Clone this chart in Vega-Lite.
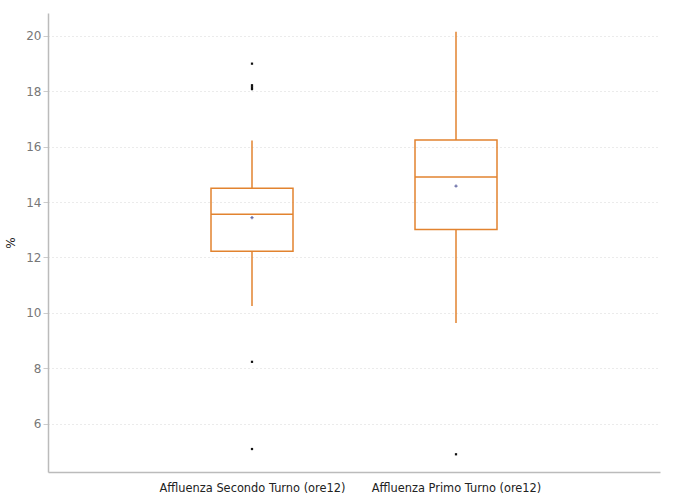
{
  "$schema": "https://vega.github.io/schema/vega-lite/v6.json",
  "width": 612,
  "height": 459,
  "autosize": "none",
  "padding": {"left": 48, "top": 13, "right": 20, "bottom": 32},
  "background": "white",
  "config": {
    "view": {"stroke": null},
    "font": "DejaVu Sans",
    "axis": {"labelFont": "DejaVu Sans", "titleFont": "DejaVu Sans"}
  },
  "datasets": {
    "stats": [
      {"serie": "Affluenza Secondo Turno (ore12)", "lower": 10.25, "q1": 12.22, "median": 13.56, "q3": 14.5, "upper": 16.22, "mean": 13.44},
      {"serie": "Affluenza Primo Turno (ore12)", "lower": 9.63, "q1": 13.01, "median": 14.91, "q3": 16.24, "upper": 20.15, "mean": 14.58}
    ],
    "outliers": [
      {"serie": "Affluenza Secondo Turno (ore12)", "value": 19.0},
      {"serie": "Affluenza Secondo Turno (ore12)", "value": 18.22},
      {"serie": "Affluenza Secondo Turno (ore12)", "value": 18.15},
      {"serie": "Affluenza Secondo Turno (ore12)", "value": 18.08},
      {"serie": "Affluenza Secondo Turno (ore12)", "value": 8.23},
      {"serie": "Affluenza Secondo Turno (ore12)", "value": 5.08},
      {"serie": "Affluenza Primo Turno (ore12)", "value": 4.89}
    ]
  },
  "encoding": {
    "x": {
      "field": "serie",
      "type": "nominal",
      "sort": ["Affluenza Secondo Turno (ore12)", "Affluenza Primo Turno (ore12)"],
      "scale": {"type": "point", "padding": 1},
      "axis": {
        "title": null,
        "labelAngle": 0,
        "labelFontSize": 11.4,
        "labelColor": "#222",
        "labelPadding": 10,
        "labelLimit": 300,
        "labelOverlap": false,
        "ticks": false,
        "domainColor": "#bbb",
        "domainWidth": 1.5,
        "grid": false
      }
    }
  },
  "layer": [
    {
      "data": {"name": "stats"},
      "mark": {"type": "rule", "color": "#e2832f", "strokeWidth": 1.5},
      "encoding": {
        "y": {
          "field": "lower",
          "type": "quantitative",
          "scale": {"domain": [4.25, 20.83], "nice": false, "zero": false},
          "axis": {
            "title": "%",
            "titleColor": "#222",
            "titleFontSize": 12,
            "titleFontWeight": "normal",
            "titlePadding": 8,
            "values": [6, 8, 10, 12, 14, 16, 18, 20],
            "labelColor": "#777",
            "labelFontSize": 12,
            "tickColor": "#ccc",
            "tickSize": 5,
            "domainColor": "#bbb",
            "domainWidth": 1.5,
            "gridColor": "#d6d6d6",
            "gridDash": [1, 3]
          }
        },
        "y2": {"field": "q1"}
      }
    },
    {
      "data": {"name": "stats"},
      "mark": {"type": "rule", "color": "#e2832f", "strokeWidth": 1.5},
      "encoding": {
        "y": {"field": "q3", "type": "quantitative"},
        "y2": {"field": "upper"}
      }
    },
    {
      "data": {"name": "stats"},
      "mark": {"type": "bar", "size": 82, "fill": null, "fillOpacity": 0, "stroke": "#e2832f", "strokeWidth": 1.5},
      "encoding": {
        "y": {"field": "q1", "type": "quantitative"},
        "y2": {"field": "q3"}
      }
    },
    {
      "data": {"name": "stats"},
      "mark": {"type": "tick", "size": 82, "thickness": 1.5, "color": "#e2832f", "opacity": 1, "orient": "horizontal"},
      "encoding": {
        "y": {"field": "median", "type": "quantitative"}
      }
    },
    {
      "data": {"name": "stats"},
      "mark": {"type": "point", "shape": "cross", "filled": true, "size": 10, "color": "#6b6fa8", "opacity": 1},
      "encoding": {
        "y": {"field": "mean", "type": "quantitative"}
      }
    },
    {
      "data": {"name": "outliers"},
      "mark": {"type": "square", "size": 5, "color": "#111", "opacity": 1},
      "encoding": {
        "y": {"field": "value", "type": "quantitative"}
      }
    }
  ]
}
